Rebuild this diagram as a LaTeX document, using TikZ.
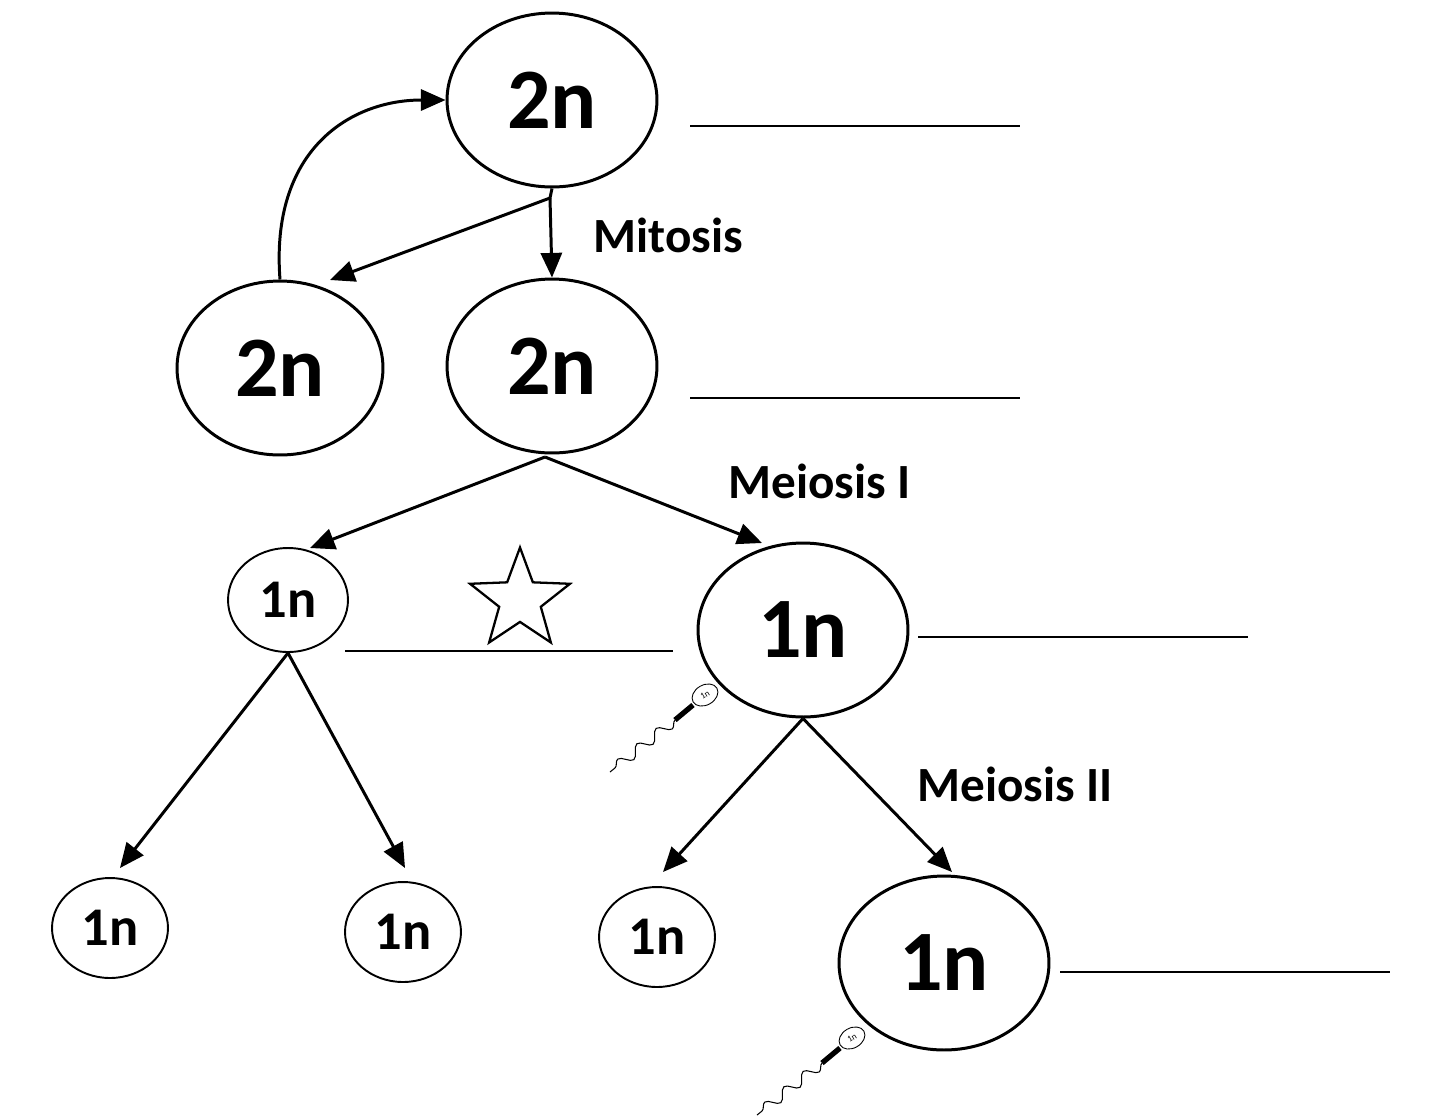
\documentclass[tikz,border=0pt]{standalone}
\usepackage{fontspec}
\setmainfont{Carlito}
\usetikzlibrary{arrows.meta,shapes.geometric,decorations.pathmorphing}
\begin{document}
\begin{tikzpicture}[x=0.02cm,y=-0.02cm,
 big/.style={ellipse,draw,line width=1.7pt,minimum width=210\pgflinewidth*0+4.2cm,minimum height=3.48cm,font=\fontsize{49}{50}\selectfont\bfseries,inner sep=0pt},
 sm/.style={ellipse,draw,line width=1.1pt,minimum width=2.32cm,minimum height=2cm,font=\fontsize{31}{32}\selectfont\bfseries,inner sep=0pt},
 arr/.style={line width=1.7pt,-{Triangle[length=14pt,width=12pt]}},
 blank/.style={line width=1.1pt},
 lab/.style={anchor=west,font=\fontsize{28}{30}\selectfont\bfseries,inner sep=0pt}]
\useasboundingbox (0,0) rectangle (1440,1117);
\node[big] (t) at (552,100) {2n};
\node[big,minimum width=4.12cm] (l) at (280,368) {2n};
\node[big] (m) at (552,366) {2n};
\node[sm,minimum width=2.4cm,minimum height=2.08cm] (a) at (288,600) {1n};
\node[big] (b) at (803,630) {1n};
\node[sm] (c) at (110,928) {1n};
\node[sm] (d) at (403,932) {1n};
\node[sm] (e) at (657,937) {1n};
\node[big] (f) at (944,963) {1n};
\coordinate (s1) at (550,198);
\draw[line width=1.7pt] (t.south) -- (s1);
\draw[arr] (s1) -- (330,280);
\draw[arr] (s1) -- (m.north);
\draw[arr] (l.north) .. controls (270,150) and (350,100) .. (t.west);
\coordinate (s2) at (545,457);
\draw[arr] (s2) -- (310,548);
\draw[arr] (s2) -- (762,543);
\draw[arr] (a.south) -- (120,868);
\draw[arr] (a.south) -- (405,868);
\draw[arr] (b.south) -- (663,872);
\draw[arr] (b.south) -- (952,872);
\node[lab] (mi) at (593,235) {Mitosis};
\node[lab] (m1) at (728,481) {Meiosis I};
\node[lab] (m2) at (917,784) {Meiosis II};
\draw[blank] (690,126) -- (1020,126);
\draw[blank] (690,398) -- (1020,398);
\draw[blank] (345,651) -- (673,651);
\draw[blank] (918,637) -- (1248,637);
\draw[blank] (1060,972) -- (1390,972);
\node[star,star points=5,star point ratio=2.4,draw,line width=1.3pt,minimum size=2.1cm,inner sep=0pt] (st) at (520,600) {};
\foreach \x/\y/\n in {705/695/p1,852/1038/p2}{
 \node[ellipse,draw,line width=0.5pt,minimum width=0.55cm,minimum height=0.4cm,rotate=30,inner sep=0pt,font=\tiny] (\n) at (\x,\y) {1n};
 \draw[line width=3pt] (\x-12,\y+10) -- (\x-30,\y+25);
 \draw[line width=0.6pt,decorate,decoration={snake,amplitude=3pt,segment length=14pt}] (\x-30,\y+25) -- (\x-95,\y+77);
}
\end{tikzpicture}
\end{document}
